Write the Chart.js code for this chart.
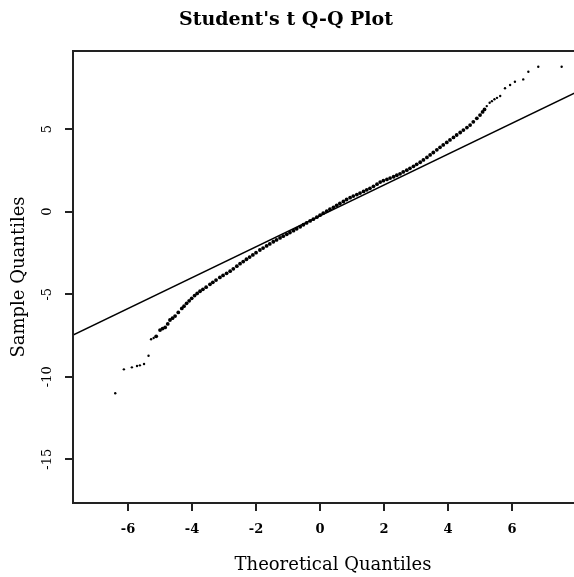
<!DOCTYPE html>
<html>
<head>
<meta charset="utf-8">
<title>Student's t Q-Q Plot</title>
<script src="https://cdn.jsdelivr.net/npm/chart.js@4.4.0/dist/chart.umd.min.js"></script>
<style>
  html, body { margin: 0; padding: 0; background: #fff; }
  #wrap { width: 574px; height: 577px; overflow: hidden; }
  canvas { display: block; }
</style>
</head>
<body>
<div id="wrap"><canvas id="qq" width="595" height="577"></canvas></div>
<script>
// Theoretical quantiles (x) and the matching sample quantiles (y)
const theoretical = [
  -6.40, -6.13, -5.88, -5.72, -5.63, -5.50, -5.36, -5.28, -5.20, -5.12,
  -5.00, -4.92, -4.84, -4.76, -4.69, -4.61, -4.53, -4.43, -4.32, -4.25,
  -4.17, -4.09, -4.01, -3.92, -3.84, -3.75, -3.66, -3.56, -3.44, -3.35,
  -3.25, -3.13, -3.03, -2.92, -2.81, -2.71, -2.60, -2.50, -2.40, -2.30,
  -2.20, -2.10, -2.00, -1.88, -1.78, -1.67, -1.57, -1.46, -1.36, -1.25,
  -1.15, -1.04, -0.94, -0.83, -0.73, -0.62, -0.52, -0.42, -0.31, -0.21,
  -0.10, 0.00, 0.10, 0.21, 0.31, 0.42, 0.52, 0.62, 0.73, 0.83,
  0.94, 1.04, 1.15, 1.25, 1.36, 1.46, 1.56, 1.67, 1.78, 1.88,
  1.98, 2.09, 2.19, 2.30, 2.40, 2.50, 2.60, 2.71, 2.81, 2.92,
  3.02, 3.13, 3.23, 3.34, 3.44, 3.54, 3.65, 3.75, 3.85, 3.96,
  4.06, 4.17, 4.27, 4.38, 4.48, 4.59, 4.69, 4.79, 4.90, 5.00,
  5.08, 5.14, 5.21, 5.30, 5.37, 5.45, 5.53, 5.63, 5.78, 5.94,
  6.09, 6.35, 6.51, 6.82, 7.55
];
const sample = [
  -11.00, -9.55, -9.43, -9.35, -9.31, -9.23, -8.73, -7.73, -7.65, -7.55,
  -7.17, -7.08, -7.01, -6.80, -6.56, -6.45, -6.32, -6.10, -5.86, -5.72,
  -5.55, -5.40, -5.25, -5.08, -4.95, -4.82, -4.70, -4.57, -4.40, -4.28,
  -4.14, -3.98, -3.86, -3.73, -3.60, -3.46, -3.30, -3.15, -3.02, -2.88,
  -2.75, -2.62, -2.48, -2.32, -2.20, -2.07, -1.95, -1.82, -1.71, -1.59,
  -1.48, -1.37, -1.26, -1.15, -1.03, -0.91, -0.79, -0.68, -0.56, -0.45,
  -0.33, -0.21, -0.09, 0.03, 0.15, 0.27, 0.39, 0.50, 0.62, 0.74,
  0.85, 0.95, 1.04, 1.13, 1.23, 1.33, 1.42, 1.54, 1.67, 1.80,
  1.88, 1.96, 2.04, 2.12, 2.21, 2.30, 2.41, 2.52, 2.63, 2.75,
  2.87, 3.00, 3.14, 3.29, 3.44, 3.59, 3.75, 3.90, 4.05, 4.20,
  4.35, 4.50, 4.65, 4.80, 4.95, 5.10, 5.25, 5.45, 5.66, 5.86,
  6.05, 6.20, 6.40, 6.60, 6.70, 6.82, 6.90, 7.01, 7.48, 7.68,
  7.88, 8.02, 8.48, 8.79, 8.79
];

// qqline end points
const lineX = [-7.72, 8.53];
const lineY = [-7.47, 7.73];

const xTicks = [-6, -4, -2, 0, 2, 4, 6];
const yTicks = [-15, -10, -5, 0, 5];

const serif = "'DejaVu Serif', 'Liberation Serif', serif";

const points = theoretical.map((x, i) => ({ x: x, y: sample[i] }));
const qqline = lineX.map((x, i) => ({ x: x, y: lineY[i] }));

// box around the plot, the main title and the rotated y tick labels
const framePlugin = {
  id: 'frame',
  afterDraw(chart) {
    const c = chart.ctx;
    const a = chart.chartArea;
    c.save();
    c.strokeStyle = '#222';
    c.lineWidth = 2;
    c.strokeRect(a.left, a.top, a.right - a.left, a.bottom - a.top);

    c.fillStyle = '#000';
    c.font = 'bold 19px ' + serif;
    c.textAlign = 'center';
    c.textBaseline = 'middle';
    c.fillText("Student's t Q-Q Plot", 286, 20);

    c.font = '13px ' + serif;
    const ys = chart.scales.y;
    yTicks.forEach(v => {
      c.save();
      c.translate(48, ys.getPixelForValue(v));
      c.rotate(-Math.PI / 2);
      c.fillText(String(v), 0, 0);
      c.restore();
    });
    c.restore();
  }
};

new Chart(document.getElementById('qq'), {
  type: 'scatter',
  data: {
    datasets: [
      {
        label: 'sample',
        data: points,
        // the dense middle reads as a thick band, the tails as loose dots
        pointRadius: ctx => (Math.abs(ctx.raw.x) < 5.2 ? 1.9 : 1.2),
        pointHoverRadius: 1.9,
        pointBorderWidth: 0,
        pointBackgroundColor: '#000'
      },
      {
        label: 'qqline',
        data: qqline,
        showLine: true,
        borderColor: '#000',
        borderWidth: 1.5,
        pointRadius: 0
      }
    ]
  },
  options: {
    responsive: false,
    animation: false,
    layout: { padding: { top: 51, right: 2, left: 0, bottom: 0 } },
    plugins: {
      legend: { display: false },
      tooltip: { enabled: false }
    },
    scales: {
      x: {
        type: 'linear',
        min: -7.72,
        max: 8.53,
        afterBuildTicks: axis => { axis.ticks = xTicks.map(v => ({ value: v })); },
        afterFit: axis => { axis.height = 74; },
        grid: { drawOnChartArea: false, drawTicks: true, tickLength: 8, color: '#222', lineWidth: 2 },
        border: { color: '#222', width: 2 },
        ticks: { color: '#000', font: { family: serif, size: 13, weight: 'bold' }, padding: 11, maxRotation: 0 },
        title: {
          display: true,
          text: 'Theoretical Quantiles',
          color: '#000',
          font: { family: serif, size: 18 },
          padding: { top: 0, bottom: 1 }
        }
      },
      y: {
        type: 'linear',
        min: -17.65,
        max: 9.74,
        afterBuildTicks: axis => { axis.ticks = yTicks.map(v => ({ value: v })); },
        afterFit: axis => { axis.width = 73; },
        grid: { drawOnChartArea: false, drawTicks: true, tickLength: 8, color: '#222', lineWidth: 2 },
        border: { color: '#222', width: 2 },
        ticks: { display: false },
        title: {
          display: true,
          text: 'Sample Quantiles',
          color: '#000',
          font: { family: serif, size: 18 },
          padding: { top: 9, bottom: 0 }
        }
      }
    }
  },
  plugins: [framePlugin]
});
</script>
</body>
</html>
